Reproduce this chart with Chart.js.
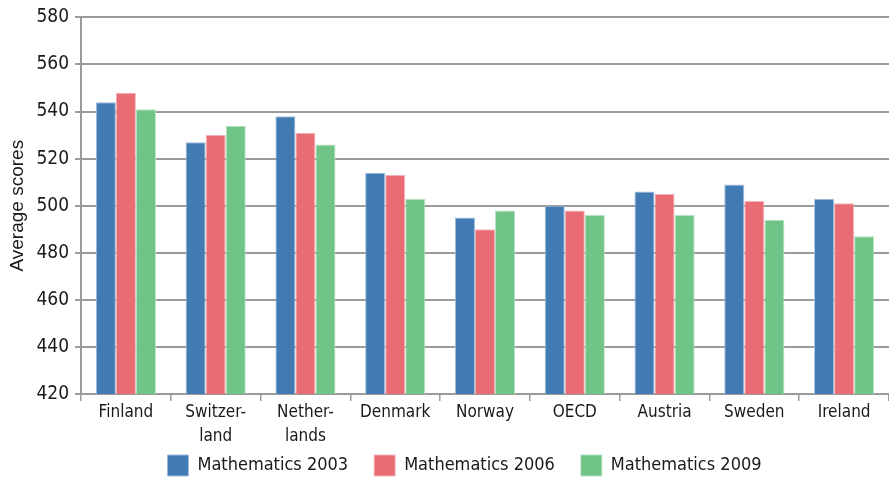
<!DOCTYPE html>
<html>
<head>
<meta charset="utf-8">
<script src="https://cdn.jsdelivr.net/npm/chart.js@4"></script>
<style>
  html, body { margin: 0; padding: 0; background: #fff; }
  #wrap { width: 889px; height: 479px; }
</style>
</head>
<body>
<div id="wrap"><canvas id="scoresChart"></canvas></div>
<script>
const countries = [
  'Finland', ['Switzer-', 'land'], ['Nether-', 'lands'], 'Denmark',
  'Norway', 'OECD', 'Austria', 'Sweden', 'Ireland'
];
const maths2003 = [544, 527, 538, 514, 495, 500, 506, 509, 503];
const maths2006 = [548, 530, 531, 513, 490, 498, 505, 502, 501];
const maths2009 = [541, 534, 526, 503, 498, 496, 496, 494, 487];
const yTicks = [420, 440, 460, 480, 500, 520, 540, 560, 580];

const narrow = '"DejaVu Sans Condensed", "Liberation Sans Narrow", sans-serif';
const gridGrey = '#9b9b9b';

// legend keeps wide gaps between items but only takes a thin strip at the bottom,
// nudged right so it sits under the plot area
const legendStrip = {
    id: 'legendStrip',
    beforeLayout(chart) {
        const lg = chart.legend;
        if (lg && !lg._stripFit) {
            const fit = lg.fit.bind(lg);
            lg.fit = function () { fit(); this.height = 30; };
            lg._stripFit = true;
        }
    },
    afterLayout(chart) {
        const lg = chart.legend;
        const pad = lg.options.labels.padding;
        lg.top = 455 - pad;
        lg.bottom = chart.height;
        lg.height = lg.bottom - lg.top;
        lg.left = 20;
        lg.right = chart.width + 20;
    }
};

const ctx = document.getElementById('scoresChart');

const myChart = new Chart(ctx, {
    type: 'bar',
    data: {
        labels: countries,
        datasets: [{
            label: 'Mathematics 2003',
            data: maths2003,
            backgroundColor: '#427bb4',
            borderColor: '#9fbddc',
            borderWidth: 1
        }, {
            label: 'Mathematics 2006',
            data: maths2006,
            backgroundColor: '#e96c75',
            borderColor: '#f4b3b8',
            borderWidth: 1
        }, {
            label: 'Mathematics 2009',
            data: maths2009,
            backgroundColor: '#70c488',
            borderColor: '#b5e2c2',
            borderWidth: 1
        }]
    },
    plugins: [legendStrip],
    options: {
        responsive: true,
        maintainAspectRatio: false,
        animation: false,
        datasets: {
            bar: { categoryPercentage: 0.67, barPercentage: 1.0 }
        },
        layout: { padding: { top: 11, right: 0, left: 0, bottom: 0 } },
        plugins: {
            tooltip: { enabled: false },
            legend: {
                position: 'bottom',
                labels: {
                    boxWidth: 21,
                    boxHeight: 21,
                    padding: 26,
                    color: '#1a1a1a',
                    font: { family: narrow, size: 18 }
                }
            }
        },
        scales: {
            x: {
                offset: true,
                afterFit: (scale) => { scale.height = 55; },
                grid: {
                    offset: true,
                    drawOnChartArea: false,
                    color: gridGrey,
                    lineWidth: 1.5,
                    tickLength: 7
                },
                border: { color: gridGrey, width: 2 },
                ticks: {
                    color: '#1a1a1a',
                    padding: 0,
                    maxRotation: 0,
                    font: { family: narrow, size: 17, lineHeight: 1.4 }
                }
            },
            y: {
                min: 420,
                max: 580,
                afterBuildTicks: (scale) => {
                    scale.ticks = yTicks.map(v => ({ value: v }));
                },
                afterFit: (scale) => { scale.width = 81; },
                grid: {
                    color: gridGrey,
                    lineWidth: 2,
                    tickLength: 6
                },
                border: { color: gridGrey, width: 2 },
                ticks: {
                    color: '#1a1a1a',
                    padding: 6,
                    font: { family: narrow, size: 19 }
                },
                title: {
                    display: true,
                    text: 'Average scores',
                    color: '#1a1a1a',
                    padding: { top: 6, bottom: 0 },
                    font: { family: '"Liberation Sans", Arial, sans-serif', size: 19 }
                }
            }
        }
    }
});
</script>
</body>
</html>
